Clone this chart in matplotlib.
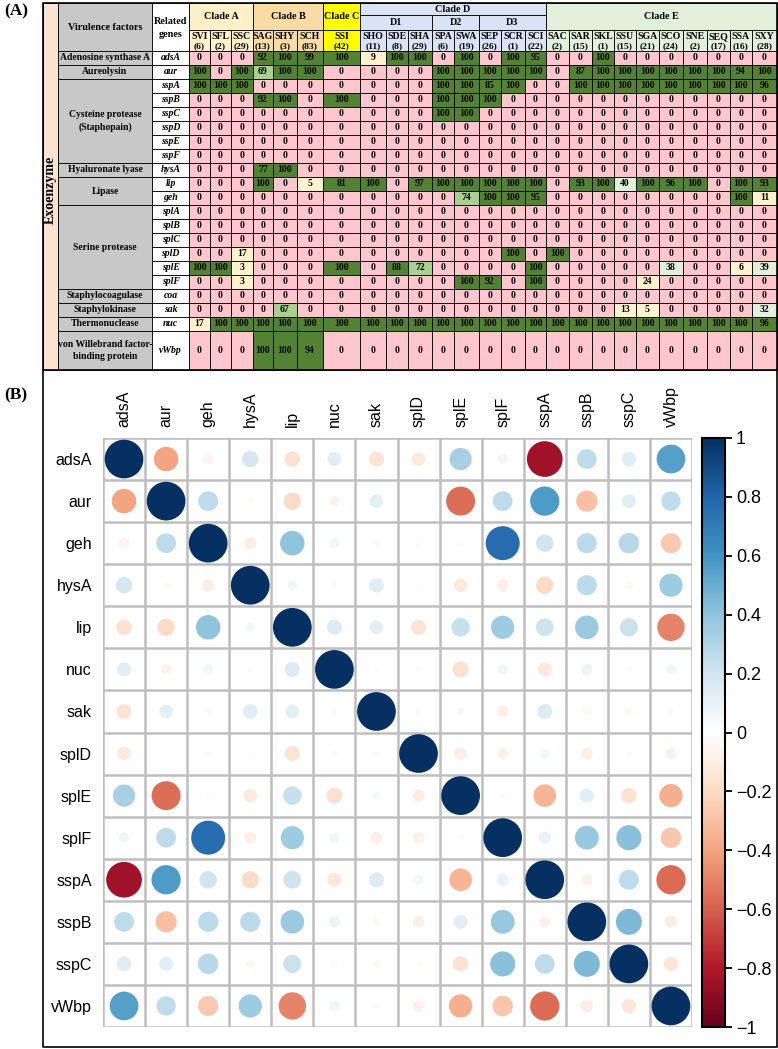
import numpy as np
import matplotlib.pyplot as plt
from matplotlib.patches import Rectangle, Circle
from matplotlib.colors import LinearSegmentedColormap, Normalize
from matplotlib.cm import ScalarMappable

W, H = 778, 1049

# ---- panel A data ----
strains = ["SVI", "SFL", "SSC", "SAG", "SHY", "SCH", "SSI", "SHO", "SDE", "SHA",
           "SPA", "SWA", "SEP", "SCR", "SCI", "SAC", "SAR", "SKL", "SSU", "SGA",
           "SCO", "SNE", "SEQ", "SSA", "SXY"]
counts = [6, 2, 29, 13, 3, 83, 42, 11, 8, 29, 6, 19, 26, 1, 22, 2, 15, 1, 15, 21,
          24, 2, 17, 16, 28]
clades = [("Clade A", 3), ("Clade B", 3), ("Clade C", 1), ("Clade D", 8), ("Clade E", 10)]
subclades_d = [("D1", 3), ("D2", 2), ("D3", 3)]
clade_colors = ["#FEF0C9", "#F9DCA3", "#FFFF00", "#DAE3F3", "#E2EFDA"]

factors = [("Adenosine synthase A", 1), ("Aureolysin", 1),
           ("Cysteine protease\n(Staphopain)", 6), ("Hyaluronate lyase", 1),
           ("Lipase", 2), ("Serine protease", 6), ("Staphylocoagulase", 1),
           ("Staphylokinase", 1), ("Thermonuclease", 1),
           ("von Willebrand factor-\nbinding protein", 1)]
genes = ["adsA", "aur", "sspA", "sspB", "sspC", "sspD", "sspE", "sspF", "hysA",
         "lip", "geh", "splA", "splB", "splC", "splD", "splE", "splF", "coa",
         "sak", "nuc", "vWbp"]

adsA = [0, 0, 0, 92, 100, 99, 100, 9, 100, 100, 0, 100, 0, 100, 95, 0, 0, 100, 0, 0, 0, 0, 0, 0, 0]
aur = [100, 0, 100, 69, 100, 100, 0, 0, 0, 0, 100, 100, 100, 100, 100, 0, 87, 100, 100, 100, 100, 100, 100, 94, 100]
sspA = [100, 100, 100, 0, 0, 0, 0, 0, 0, 0, 100, 100, 85, 100, 0, 0, 100, 100, 100, 100, 100, 100, 100, 100, 96]
sspB = [0, 0, 0, 92, 100, 0, 100, 0, 0, 0, 100, 100, 100, 0, 0, 0, 0, 0, 0, 0, 0, 0, 0, 0, 0]
sspC = [0, 0, 0, 0, 0, 0, 0, 0, 0, 0, 100, 100, 0, 0, 0, 0, 0, 0, 0, 0, 0, 0, 0, 0, 0]
sspD = [0] * 25
sspE = [0] * 25
sspF = [0] * 25
hysA = [0, 0, 0, 77, 100, 0, 0, 0, 0, 0, 0, 0, 0, 0, 0, 0, 0, 0, 0, 0, 0, 0, 0, 0, 0]
lip = [0, 0, 0, 100, 0, 5, 81, 100, 0, 97, 100, 100, 100, 100, 100, 0, 93, 100, 40, 100, 96, 100, 0, 100, 93]
geh = [0, 0, 0, 0, 0, 0, 0, 0, 0, 0, 0, 74, 100, 100, 95, 0, 0, 0, 0, 0, 0, 0, 0, 100, 11]
splA = [0] * 25
splB = [0] * 25
splC = [0] * 25
splD = [0, 0, 17, 0, 0, 0, 0, 0, 0, 0, 0, 0, 0, 100, 0, 100, 0, 0, 0, 0, 0, 0, 0, 0, 0]
splE = [100, 100, 3, 0, 0, 0, 100, 0, 88, 72, 0, 0, 0, 0, 100, 0, 0, 0, 0, 0, 38, 0, 0, 6, 39]
splF = [0, 0, 3, 0, 0, 0, 0, 0, 0, 0, 0, 100, 92, 0, 100, 0, 0, 0, 0, 24, 0, 0, 0, 0, 0]
coa = [0] * 25
sak = [0, 0, 0, 0, 67, 0, 0, 0, 0, 0, 0, 0, 0, 0, 0, 0, 0, 0, 13, 5, 0, 0, 0, 0, 32]
nuc = [17, 100, 100, 100, 100, 100, 100, 100, 100, 100, 100, 100, 100, 100, 100, 100, 100, 100, 100, 100, 100, 100, 100, 100, 96]
vWbp = [0, 0, 0, 100, 100, 94, 0, 0, 0, 0, 0, 0, 0, 0, 0, 0, 0, 0, 0, 0, 0, 0, 0, 0, 0]
table = [adsA, aur, sspA, sspB, sspC, sspD, sspE, sspF, hysA, lip, geh, splA, splB,
         splC, splD, splE, splF, coa, sak, nuc, vWbp]

# ---- panel B data ----
corr_labels = ["adsA", "aur", "geh", "hysA", "lip", "nuc", "sak", "splD", "splE",
               "splF", "sspA", "sspB", "sspC", "vWbp"]
corr = np.array([
    # adsA  aur   geh   hysA  lip   nuc   sak   splD  splE  splF  sspA  sspB  sspC  vWbp
    [1.00, -0.40, -0.07, 0.18, -0.16, 0.13, -0.15, -0.12, 0.33, 0.07, -0.85, 0.26, 0.14, 0.55],
    [-0.40, 1.00, 0.26, -0.03, -0.20, -0.07, 0.12, 0.00, -0.56, 0.26, 0.57, -0.30, 0.13, 0.25],
    [-0.07, 0.26, 1.00, -0.10, 0.40, 0.07, 0.02, 0.02, 0.02, 0.77, 0.20, 0.27, 0.28, -0.27],
    [0.18, -0.03, -0.10, 1.00, 0.06, 0.02, 0.14, 0.02, -0.12, -0.09, -0.20, 0.27, -0.04, 0.36],
    [-0.16, -0.20, 0.40, 0.06, 1.00, 0.15, 0.12, -0.15, 0.23, 0.36, 0.21, 0.37, 0.22, -0.50],
    [0.13, -0.07, 0.07, 0.02, 0.15, 1.00, 0.02, 0.03, -0.17, 0.07, -0.13, 0.08, 0.03, 0.07],
    [-0.15, 0.12, 0.02, 0.14, 0.12, 0.02, 1.00, 0.02, 0.04, -0.09, 0.15, -0.04, -0.04, -0.02],
    [-0.12, 0.00, 0.02, 0.02, -0.15, 0.03, 0.02, 1.00, -0.10, -0.08, 0.06, -0.09, -0.03, -0.08],
    [0.33, -0.56, 0.02, -0.12, 0.23, -0.17, 0.04, -0.10, 1.00, 0.03, -0.34, 0.13, -0.16, -0.36],
    [0.07, 0.26, 0.77, -0.09, 0.36, 0.07, -0.09, -0.08, 0.03, 1.00, 0.10, 0.38, 0.42, -0.28],
    [-0.85, 0.57, 0.20, -0.20, 0.21, -0.13, 0.15, 0.06, -0.34, 0.10, 1.00, -0.08, 0.26, -0.57],
    [0.26, -0.30, 0.27, 0.27, 0.37, 0.08, -0.04, -0.09, 0.13, 0.38, -0.08, 1.00, 0.45, -0.10],
    [0.14, 0.13, 0.28, -0.04, 0.22, 0.03, -0.04, -0.03, -0.16, 0.42, 0.26, 0.45, 1.00, -0.14],
    [0.55, 0.25, -0.27, 0.36, -0.50, 0.07, -0.02, -0.08, -0.36, -0.28, -0.57, -0.10, -0.14, 1.00],
])
cbar_ticks = [-1, -0.8, -0.6, -0.4, -0.2, 0, 0.2, 0.4, 0.6, 0.8, 1]
cbar_labels = ["\u22121", "\u22120.8", "\u22120.6", "\u22120.4", "\u22120.2", "0",
               "0.2", "0.4", "0.6", "0.8", "1"]

# ---- layout (pixels) ----
col_x = [189, 210, 231, 253, 273, 297, 323, 360, 386, 408, 432, 454, 479, 501, 525,
         546, 569, 592, 614, 636, 659, 683, 707, 730, 752, 777]
x_exo, x_vf, x_gene = 43, 58, 152
y_top, y_sub, y_name, y_data = 3, 15, 30, 51
row_h = 14
y_bot = 370

serif = "Liberation Serif"


def cell_color(v):
    if v == 0:
        return "#FFC6CE"
    if v <= 30:
        return "#FFF2CC"
    if v <= 50:
        return "#E2EFDA"
    if v < 75:
        return "#A9D08E"
    return "#548235"


def box(ax, x0, y0, x1, y1, fc, lw=0.6):
    ax.add_patch(Rectangle((x0, y0), x1 - x0, y1 - y0, facecolor=fc,
                           edgecolor="black", lw=lw, zorder=1))


def txt(ax, x, y, s, size=7, style="normal", **kw):
    ax.text(x, y, s, ha="center", va="center", fontsize=size, fontweight="bold",
            fontstyle=style, family=serif, zorder=3, **kw)


fig = plt.figure(figsize=(W / 100, H / 100), dpi=100)
ax0 = fig.add_axes([0, 0, 1, 1])
ax0.set_xlim(0, W)
ax0.set_ylim(H, 0)
ax0.axis("off")

# left column and header
box(ax0, x_exo, y_top, x_vf, y_bot, "#FBE3D3")
txt(ax0, (x_exo + x_vf) / 2, 190, "Exoenzyme", size=10, rotation=90)
box(ax0, x_vf, y_top, x_gene, y_data, "#C8C8C8")
txt(ax0, (x_vf + x_gene) / 2, 28, "Virulence factors", size=7.3)
box(ax0, x_gene, y_top, col_x[0], y_data, "white")
txt(ax0, (x_gene + col_x[0]) / 2, 28, "Related\ngenes", size=7.3, linespacing=1.45)

# clade headers
strain_clade = []
i0 = 0
for k, (name, n) in enumerate(clades):
    xa, xb = col_x[i0], col_x[i0 + n]
    strain_clade += [k] * n
    if name == "Clade D":
        box(ax0, xa, y_top, xb, y_sub, clade_colors[k])
        txt(ax0, (xa + xb) / 2, (y_top + y_sub) / 2, name, size=7.3)
        j0 = i0
        for sname, m in subclades_d:
            box(ax0, col_x[j0], y_sub, col_x[j0 + m], y_name, clade_colors[k])
            txt(ax0, (col_x[j0] + col_x[j0 + m]) / 2, (y_sub + y_name) / 2, sname, size=7.3)
            j0 += m
    else:
        box(ax0, xa, y_top, xb, y_name, clade_colors[k])
        txt(ax0, (xa + xb) / 2, (y_top + y_name) / 2, name, size=7.3)
    i0 += n

for j, (s, c) in enumerate(zip(strains, counts)):
    xa, xb = col_x[j], col_x[j + 1]
    box(ax0, xa, y_name, xb, y_data, clade_colors[strain_clade[j]])
    txt(ax0, (xa + xb) / 2, 36.5, s, size=7.1)
    txt(ax0, (xa + xb) / 2, 46.5, "(%d)" % c, size=6.8)

# data rows
row_top = [y_data + row_h * i for i in range(len(genes))] + [y_bot]
r = 0
for fname, n in factors:
    ya, yb = row_top[r], row_top[r + n]
    box(ax0, x_vf, ya, x_gene, yb, "#C8C8C8")
    txt(ax0, (x_vf + x_gene) / 2, (ya + yb) / 2, fname, size=6.9, linespacing=1.5)
    r += n

for i, (g, vals) in enumerate(zip(genes, table)):
    ya, yb = row_top[i], row_top[i + 1]
    box(ax0, x_gene, ya, col_x[0], yb, "white")
    txt(ax0, (x_gene + col_x[0]) / 2, (ya + yb) / 2, g, size=7, style="italic")
    for j, v in enumerate(vals):
        box(ax0, col_x[j], ya, col_x[j + 1], yb, cell_color(v))
        txt(ax0, (col_x[j] + col_x[j + 1]) / 2, (ya + yb) / 2, str(v), size=7)

ax0.add_patch(Rectangle((x_exo, y_top), col_x[-1] - x_exo, y_bot - y_top,
                        facecolor="none", edgecolor="black", lw=1.2, zorder=4))
ax0.plot([x_exo, x_exo, col_x[-1], col_x[-1]], [y_bot, 1047, 1047, y_bot],
         color="black", lw=1.2, zorder=4)

ax0.text(4, 11, "(A)", fontsize=12.5, fontweight="bold", family=serif, va="center")
ax0.text(4, 395, "(B)", fontsize=12.5, fontweight="bold", family=serif, va="center")

# ---- panel B: correlation circles ----
cmap = LinearSegmentedColormap.from_list(
    "corrRdBu", ["#67001F", "#B2182B", "#D6604D", "#F4A582", "#FDDBC7", "#FFFFFF",
                 "#D1E5F0", "#92C5DE", "#4393C3", "#2166AC", "#053061"])
norm = Normalize(-1, 1)

gx0, gy1, gs = 103, 1027, 589
n = len(corr_labels)
ax = fig.add_axes([gx0 / W, 1 - gy1 / H, gs / W, gs / H])
ax.set_xlim(0, n)
ax.set_ylim(n, 0)
for i in range(n):
    for j in range(n):
        val = corr[i, j]
        ax.add_patch(Circle((j + 0.5, i + 0.5), 0.46 * np.sqrt(abs(val)),
                            facecolor=cmap(norm(val)), edgecolor="none", zorder=2))
for k in range(n + 1):
    ax.axhline(k, color="#BEBEBE", lw=1.8, zorder=1)
    ax.axvline(k, color="#BEBEBE", lw=1.8, zorder=1)
for sp in ax.spines.values():
    sp.set_visible(False)
ax.set_xticks(np.arange(n) + 0.5)
ax.set_xticklabels(corr_labels, rotation=90, family="Liberation Sans", fontsize=11.5)
ax.set_yticks(np.arange(n) + 0.5)
ax.set_yticklabels(corr_labels, family="Liberation Sans", fontsize=11.5)
ax.tick_params(length=0, top=False, bottom=False, labeltop=True, labelbottom=False,
               pad=8)

cax = fig.add_axes([702 / W, 1 - gy1 / H, 23 / W, gs / H])
cb = fig.colorbar(ScalarMappable(norm=norm, cmap=cmap), cax=cax, ticks=cbar_ticks)
cb.ax.set_yticklabels(cbar_labels, family="Liberation Sans", fontsize=13)
cb.outline.set_linewidth(1.5)
cax.tick_params(length=5, width=1.3, pad=3)

fig.savefig("out.png", dpi=100)
